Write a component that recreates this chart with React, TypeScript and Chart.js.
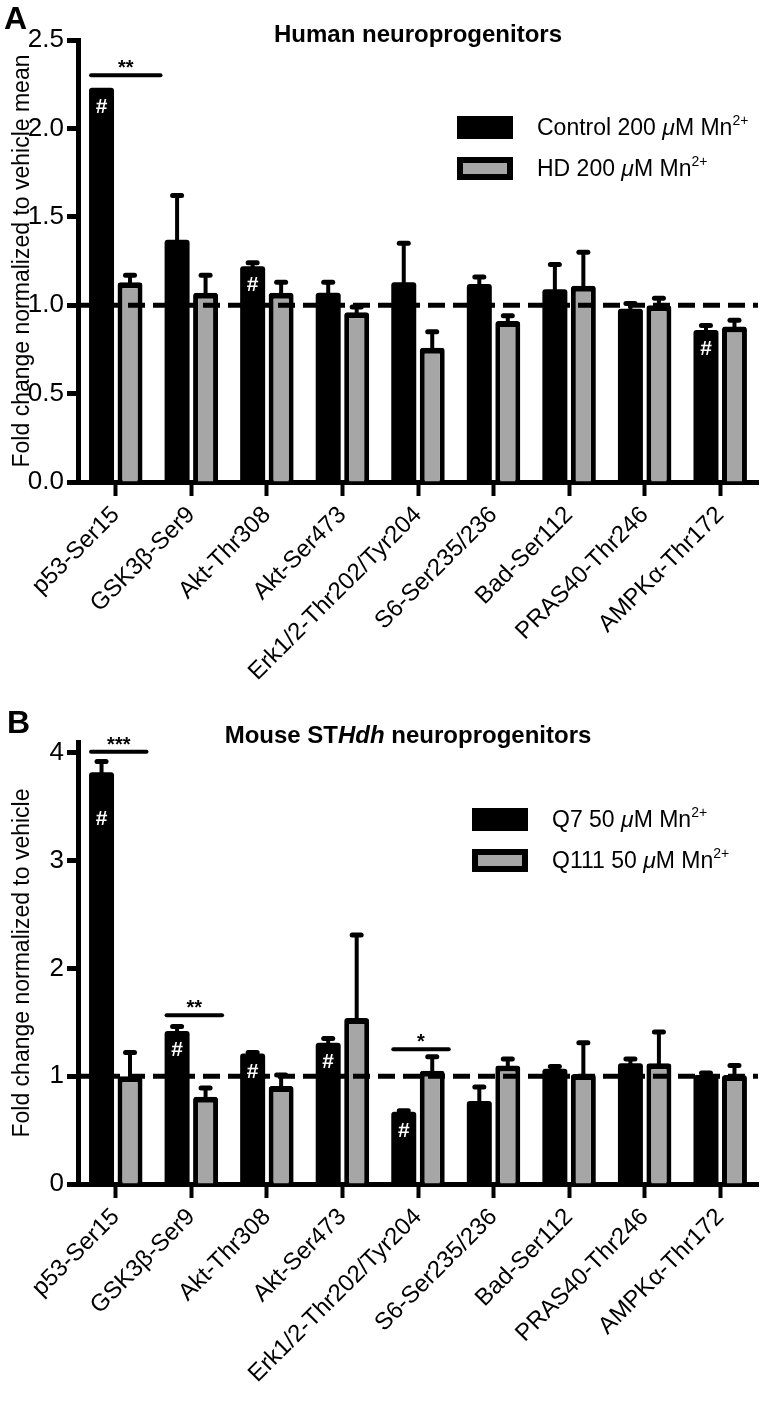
import React, { useEffect, useRef } from 'react';
import { Chart, registerables } from 'chart.js';

Chart.register(...registerables);

// ---------- DATA ----------
const categories = [
  'p53-Ser15',
  'GSK3β-Ser9',
  'Akt-Thr308',
  'Akt-Ser473',
  'Erk1/2-Thr202/Tyr204',
  'S6-Ser235/236',
  'Bad-Ser112',
  'PRAS40-Thr246',
  'AMPKα-Thr172',
];

// Panel A: Human neuroprogenitors
const humanControl = [2.23, 1.37, 1.22, 1.07, 1.13, 1.12, 1.09, 0.98, 0.86];
const humanControlErr = [0.0, 0.25, 0.02, 0.06, 0.22, 0.04, 0.14, 0.03, 0.025];
const humanHD = [1.13, 1.07, 1.07, 0.96, 0.76, 0.91, 1.11, 1.0, 0.88];
const humanHDErr = [0.04, 0.1, 0.06, 0.03, 0.09, 0.03, 0.19, 0.04, 0.035];
const humanTicks = [0, 0.5, 1.0, 1.5, 2.0, 2.5];
const humanHash = [0, 2, 8]; // control bars marked '#'
const humanSig = [{ index: 0, value: 2.3, label: '**' }];

// Panel B: Mouse STHdh neuroprogenitors
const mouseQ7 = [3.82, 1.42, 1.21, 1.31, 0.67, 0.77, 1.07, 1.12, 1.01];
const mouseQ7Err = [0.1, 0.04, 0.01, 0.04, 0.01, 0.13, 0.02, 0.04, 0.02];
const mouseQ111 = [1.0, 0.81, 0.91, 1.54, 1.05, 1.1, 1.02, 1.12, 1.01];
const mouseQ111Err = [0.22, 0.08, 0.1, 0.77, 0.13, 0.06, 0.29, 0.29, 0.09];
const mouseTicks = [0, 1, 2, 3, 4];
const mouseHash = [0, 1, 2, 3, 4]; // Q7 bars marked '#'
const mouseSig = [
  { index: 0, value: 4.01, label: '***' },
  { index: 1, value: 1.565, label: '**' },
  { index: 4, value: 1.25, label: '*' },
];

// ---------- STYLE ----------
const FONT = "'Liberation Sans', Arial, Helvetica, sans-serif";
const GRAY = '#a6a6a6';

type Seg = { text: string; style?: string; sup?: boolean };

function drawSegs(ctx: CanvasRenderingContext2D, segs: Seg[], x: number, y: number, size: number, weight: string, align: 'left' | 'center') {
  const fontFor = (s: Seg) => `${s.style || ''} ${weight} ${s.sup ? Math.round(size * 0.62) : size}px ${FONT}`;
  let total = 0;
  segs.forEach((s) => { ctx.font = fontFor(s); total += ctx.measureText(s.text).width; });
  let cx = align === 'center' ? x - total / 2 : x;
  ctx.textAlign = 'left';
  ctx.textBaseline = 'alphabetic';
  segs.forEach((s) => {
    ctx.font = fontFor(s);
    ctx.fillText(s.text, cx, s.sup ? y - size * 0.42 : y);
    cx += ctx.measureText(s.text).width;
  });
}

function makePanel(opts: any) {
  const plugin = {
    id: 'panelDecor',
    afterDatasetsDraw(chart: any) {
      const ctx: CanvasRenderingContext2D = chart.ctx;
      const ys = chart.scales.y;
      const area = chart.chartArea;
      ctx.save();
      ctx.fillStyle = '#000';
      ctx.strokeStyle = '#000';

      // error bars (upper)
      opts.errors.forEach((errs: number[], d: number) => {
        const meta = chart.getDatasetMeta(d);
        meta.data.forEach((el: any, i: number) => {
          const e = errs[i];
          if (!e) return;
          const v = chart.data.datasets[d].data[i];
          const ye = ys.getPixelForValue(v + e);
          ctx.lineWidth = 4;
          ctx.lineCap = 'butt';
          ctx.beginPath();
          ctx.moveTo(el.x, el.y + 2);
          ctx.lineTo(el.x, ye);
          ctx.stroke();
          ctx.lineWidth = 5;
          ctx.lineCap = 'round';
          ctx.beginPath();
          ctx.moveTo(el.x - 4.5, ye);
          ctx.lineTo(el.x + 4.5, ye);
          ctx.stroke();
        });
      });

      // dashed reference line at 1
      const y1 = ys.getPixelForValue(1);
      ctx.lineWidth = 5;
      ctx.lineCap = 'butt';
      ctx.setLineDash([17, 8]);
      ctx.beginPath();
      ctx.moveTo(area.left, y1);
      ctx.lineTo(area.right, y1);
      ctx.stroke();
      ctx.setLineDash([]);

      // '#' marks
      const meta0 = chart.getDatasetMeta(0);
      const meta1 = chart.getDatasetMeta(1);
      ctx.fillStyle = '#fff';
      ctx.font = `bold 21px ${FONT}`;
      ctx.textAlign = 'center';
      ctx.textBaseline = 'middle';
      opts.hash.forEach((i: number) => {
        const el = meta0.data[i];
        const off = opts.hashOffset && opts.hashOffset[i] ? opts.hashOffset[i] : 19;
        ctx.fillText('#', el.x, el.y + off);
      });

      // significance bars
      ctx.fillStyle = '#000';
      opts.sig.forEach((s: any) => {
        const a = meta0.data[s.index];
        const b = meta1.data[s.index];
        const x0 = a.x - a.width / 2 + 2;
        const x1 = b.x + b.width / 2 + opts.sigExtra;
        const yl = ys.getPixelForValue(s.value);
        ctx.lineWidth = 4;
        ctx.lineCap = 'round';
        ctx.beginPath();
        ctx.moveTo(x0, yl);
        ctx.lineTo(x1, yl);
        ctx.stroke();
        ctx.font = `bold 20px ${FONT}`;
        ctx.textAlign = 'center';
        ctx.textBaseline = 'alphabetic';
        ctx.fillText(s.label, (x0 + x1) / 2, yl - 1);
      });

      // panel letter
      ctx.font = `bold 32px ${FONT}`;
      ctx.textAlign = 'left';
      ctx.textBaseline = 'alphabetic';
      ctx.fillText(opts.letter, opts.letterX, opts.letterY);

      // title
      drawSegs(ctx, opts.title, opts.titleX, opts.titleY, 24, 'bold', 'center');

      // legend
      opts.legend.forEach((item: any, k: number) => {
        const bx = opts.legendX;
        const by = opts.legendY + k * 41;
        ctx.fillStyle = '#000';
        ctx.fillRect(bx, by, 56, 23);
        if (item.gray) {
          ctx.fillStyle = GRAY;
          ctx.fillRect(bx + 6, by + 6, 44, 11);
        }
        ctx.fillStyle = '#000';
        drawSegs(ctx, item.segs, bx + 80, by + 19, 23, 'normal', 'left');
      });

      ctx.restore();
    },
  };

  return {
    type: 'bar' as const,
    data: {
      labels: categories,
      datasets: [
        {
          label: opts.names[0],
          data: opts.series[0],
          backgroundColor: '#000',
          borderColor: '#000',
          borderWidth: 0,
          borderRadius: 3,
          categoryPercentage: 0.754,
          barPercentage: 0.877,
        },
        {
          label: opts.names[1],
          data: opts.series[1],
          backgroundColor: GRAY,
          borderColor: '#000',
          borderWidth: { top: 6, left: 5, right: 5, bottom: 0 },
          borderRadius: 3,
          borderSkipped: 'bottom',
          categoryPercentage: 0.754,
          barPercentage: 0.877,
        },
      ],
    },
    options: {
      responsive: false,
      animation: false,
      devicePixelRatio: 1,
      layout: { padding: { top: opts.top, right: 2, left: 0, bottom: 0 } },
      plugins: { legend: { display: false }, tooltip: { enabled: false }, title: { display: false } },
      scales: {
        x: {
          afterFit: (s: any) => { s.height = opts.xHeight; },
          grid: {
            display: true,
            offset: false,
            drawOnChartArea: false,
            drawTicks: true,
            tickLength: 14,
            tickWidth: 4,
            tickColor: '#000',
            color: '#000',
          },
          border: { display: true, width: 5, color: '#000' },
          ticks: {
            autoSkip: false,
            minRotation: 45,
            maxRotation: 45,
            padding: 5,
            color: '#000',
            font: { family: FONT, size: 24 },
          },
        },
        y: {
          min: 0,
          max: opts.max,
          afterFit: (s: any) => { s.width = 78; },
          afterBuildTicks: (s: any) => {
            s.ticks = opts.ticks.map((v: number) => ({ value: v }));
          },
          grid: {
            display: true,
            drawOnChartArea: false,
            drawTicks: true,
            tickLength: 11,
            tickWidth: 5,
            tickColor: '#000',
            color: '#000',
          },
          border: { display: true, width: 5, color: '#000' },
          ticks: {
            padding: 3,
            color: '#000',
            font: { family: FONT, size: 26 },
            callback: (v: any) => opts.fmt(Number(v)),
          },
          title: {
            display: true,
            text: opts.yTitle,
            color: '#000',
            font: { family: FONT, size: 23 },
            padding: { top: 9, bottom: 0 },
          },
        },
      },
    },
    plugins: [plugin],
  };
}

const panelA = () =>
  makePanel({
    names: ['Control 200 µM Mn2+', 'HD 200 µM Mn2+'],
    series: [humanControl, humanHD],
    errors: [humanControlErr, humanHDErr],
    hash: humanHash,
    sig: humanSig,
    sigExtra: 18,
    ticks: humanTicks,
    max: 2.5,
    fmt: (v: number) => v.toFixed(1),
    top: 40,
    xHeight: 695 - 482,
    yTitle: 'Fold change normalized to vehicle mean',
    letter: 'A',
    letterX: 4,
    letterY: 29,
    title: [{ text: 'Human neuroprogenitors' }],
    titleX: 418,
    titleY: 42,
    legendX: 457,
    legendY: 116,
    legend: [
      { gray: false, segs: [{ text: 'Control 200 ' }, { text: 'μ', style: 'italic' }, { text: 'M Mn' }, { text: '2+', sup: true }] },
      { gray: true, segs: [{ text: 'HD 200 ' }, { text: 'μ', style: 'italic' }, { text: 'M Mn' }, { text: '2+', sup: true }] },
    ],
  });

const panelB = () =>
  makePanel({
    names: ['Q7 50 µM Mn2+', 'Q111 50 µM Mn2+'],
    series: [mouseQ7, mouseQ111],
    errors: [mouseQ7Err, mouseQ111Err],
    hash: mouseHash,
    hashOffset: { 0: 47 },
    sig: mouseSig,
    sigExtra: 4,
    ticks: mouseTicks,
    max: 4.1,
    fmt: (v: number) => String(Math.round(v)),
    top: 47,
    xHeight: 708 - 489,
    yTitle: 'Fold change normalized to vehicle',
    letter: 'B',
    letterX: 7,
    letterY: 38,
    title: [{ text: 'Mouse ST' }, { text: 'Hdh', style: 'italic' }, { text: ' neuroprogenitors' }],
    titleX: 408,
    titleY: 48,
    legendX: 472,
    legendY: 113,
    legend: [
      { gray: false, segs: [{ text: 'Q7 50 ' }, { text: 'μ', style: 'italic' }, { text: 'M Mn' }, { text: '2+', sup: true }] },
      { gray: true, segs: [{ text: 'Q111 50 ' }, { text: 'μ', style: 'italic' }, { text: 'M Mn' }, { text: '2+', sup: true }] },
    ],
  });

function ChartCanvas({ make, height }: { make: () => any; height: number }) {
  const ref = useRef<HTMLCanvasElement | null>(null);
  useEffect(() => {
    if (!ref.current) return;
    const chart = new Chart(ref.current, make());
    return () => chart.destroy();
  }, [make]);
  return <canvas ref={ref} width={760} height={height} style={{ display: 'block', width: 760, height }} />;
}

export default function App() {
  useEffect(() => {
    document.body.style.margin = '0';
  }, []);
  return (
    <div style={{ width: 760, height: 1403, background: '#fff' }}>
      <ChartCanvas make={panelA} height={695} />
      <ChartCanvas make={panelB} height={708} />
    </div>
  );
}
